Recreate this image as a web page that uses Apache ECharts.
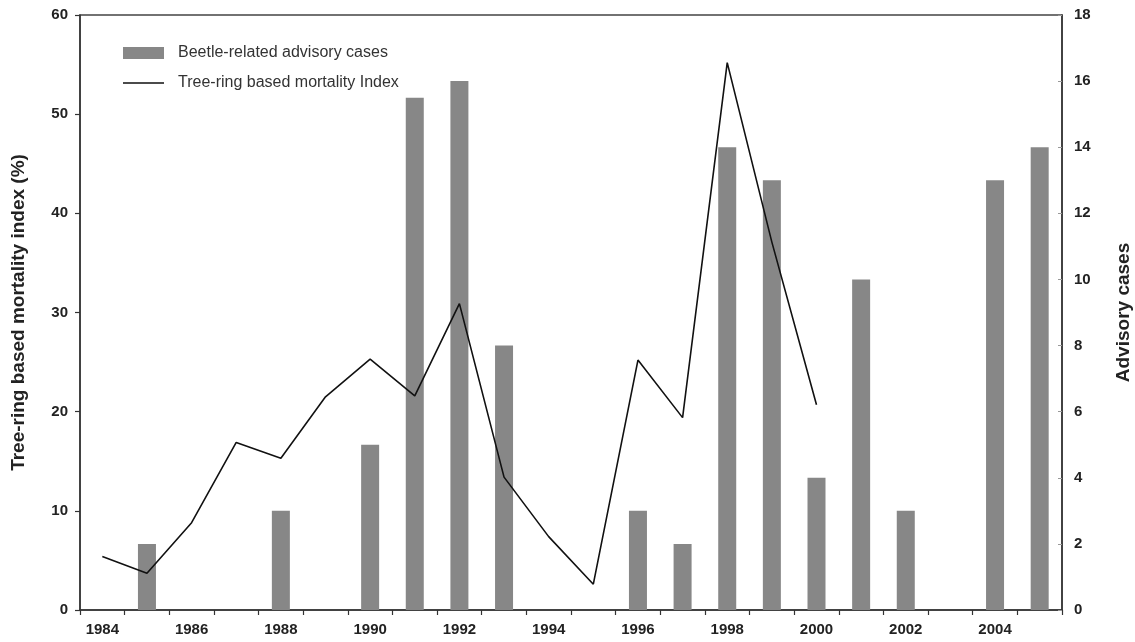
<!DOCTYPE html>
<html>
<head>
<meta charset="utf-8">
<script src="https://cdn.jsdelivr.net/npm/echarts@6/dist/echarts.min.js"></script>
<style>html,body{margin:0;padding:0;background:#fff}#c{width:1135px;height:642px}</style>
</head>
<body>
<div id="c"></div>
<script>
var years = ['1984','1985','1986','1987','1988','1989','1990','1991','1992','1993','1994','1995','1996','1997','1998','1999','2000','2001','2002','2003','2004','2005'];
var advisoryCases = [null,2,null,null,3,null,5,15.5,16,8,null,null,3,2,14,13,4,10,3,null,13,14];
var mortalityIndex = [5.4,3.7,8.8,16.9,15.3,21.5,25.3,21.6,30.9,13.4,7.4,2.6,25.2,19.4,55.2,37.1,20.7,null,null,null,null,null];
var leftTicks = {min:0, max:60, interval:10};
var rightTicks = {min:0, max:18, interval:2};

var chart = echarts.init(document.getElementById('c'), null, {renderer:'canvas'});
var font = 'Liberation Sans, Arial, sans-serif';
var lineIcon = 'path://M0,0 L0.001,0 L0.001,0.001 Z M0,5.2 L41,5.2 L41,6.8 L0,6.8 Z M0,12 L0.001,12 L0.001,11.999 Z';
chart.setOption({
  animation:false,
  backgroundColor:'#fff',
  textStyle:{fontFamily:font},
  grid:{left:80, right:73, top:15, bottom:32, outerBoundsMode:'none', show:true, borderColor:'#444', borderWidth:1.5, backgroundColor:'transparent'},
  legend:{
    orient:'vertical', left:123, top:44, padding:0, itemWidth:41, itemHeight:12, itemGap:12,
    textStyle:{fontFamily:font, fontSize:16, color:'#333', lineHeight:18, padding:[0,0,0,9]},
    data:[{name:'Beetle-related advisory cases', icon:'rect'},{name:'Tree-ring based mortality Index', icon:lineIcon}]
  },
  xAxis:{
    type:'category', data:years, boundaryGap:true,
    axisLine:{lineStyle:{color:'#333', width:1.5}},
    axisTick:{show:true, interval:0, length:5, lineStyle:{color:'#333', width:1.2}},
    axisLabel:{interval:1, fontSize:15, fontWeight:'bold', color:'#222', margin:12, fontFamily:font},
    splitLine:{show:false}
  },
  yAxis:[{
    type:'value', min:leftTicks.min, max:leftTicks.max, interval:leftTicks.interval, position:'left',
    name:'Tree-ring based mortality index (%)', nameLocation:'middle', nameRotate:90, nameGap:52,
    nameTextStyle:{fontSize:19, fontWeight:'bold', color:'#222', fontFamily:font},
    axisLine:{show:true, lineStyle:{color:'#333', width:1.5}},
    axisTick:{show:true, length:5, lineStyle:{color:'#333', width:1.2}},
    axisLabel:{fontSize:15, fontWeight:'bold', color:'#222', margin:12, fontFamily:font},
    splitLine:{show:false}
  },{
    type:'value', min:rightTicks.min, max:rightTicks.max, interval:rightTicks.interval, position:'right',
    name:'Advisory cases', nameLocation:'middle', nameRotate:90, nameGap:52,
    nameTextStyle:{fontSize:19, fontWeight:'bold', color:'#222', fontFamily:font},
    axisLine:{show:true, lineStyle:{color:'#333', width:1.5}},
    axisTick:{show:true, inside:true, length:4, lineStyle:{color:'#999', width:1}},
    axisLabel:{fontSize:15, fontWeight:'bold', color:'#222', margin:12, fontFamily:font},
    splitLine:{show:false}
  }],
  series:[{
    name:'Beetle-related advisory cases', type:'bar', yAxisIndex:1, data:advisoryCases,
    barWidth:18, itemStyle:{color:'#878787'}
  },{
    name:'Tree-ring based mortality Index', type:'line', yAxisIndex:0, data:mortalityIndex,
    symbol:'none', showSymbol:false, connectNulls:false,
    lineStyle:{color:'#111', width:1.6}, itemStyle:{color:'#111'}
  }]
});
</script>
</body>
</html>
